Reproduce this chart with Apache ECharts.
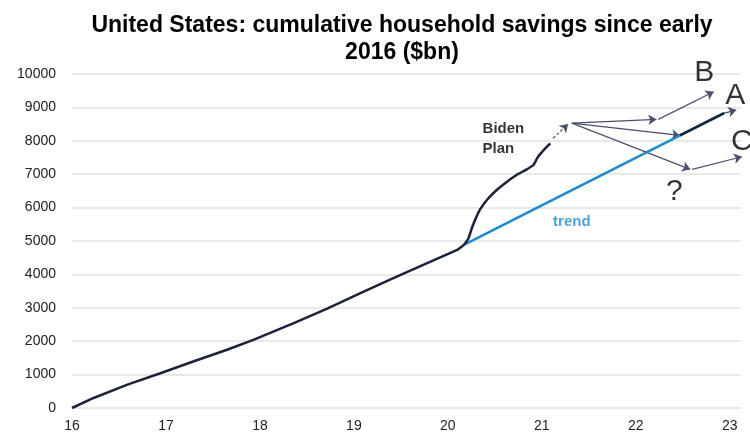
<!DOCTYPE html>
<html>
<head>
<meta charset="utf-8">
<script src="https://cdn.jsdelivr.net/npm/echarts@6/dist/echarts.min.js"></script>
<style>
  html, body { margin: 0; padding: 0; background: #fff; }
  #chart { width: 750px; height: 436px; }
</style>
</head>
<body>
<div id="chart"></div>
<script>
// cumulative savings, $bn, x = year (16 = early 2016)
const history = [
  [16.0, 0], [16.23, 300], [16.59, 700], [16.94, 1040], [17.29, 1393],
  [17.65, 1743], [17.93, 2042], [18.36, 2541], [18.71, 2969], [19.07, 3438],
  [19.42, 3886], [19.78, 4335], [20.1, 4733], [20.17, 4883]
];
const bidenPlan = [
  [20.17, 4883], [20.22, 5083], [20.255, 5382], [20.29, 5630], [20.34, 5929],
  [20.415, 6228], [20.52, 6527], [20.63, 6775], [20.73, 6976], [20.84, 7146],
  [20.91, 7275], [20.96, 7523], [21.02, 7723], [21.09, 7924]
];
const trend = [[20.17, 4883], [22.94, 8830]];
const pathA = [[22.47, 8161], [22.94, 8830]];

// scenario arrows [from, to]
const arrowsSolid = [
  [[21.32, 8530], [22.22, 8641]],
  [[22.24, 8641], [22.83, 9467]],
  [[21.32, 8530], [22.47, 8161]],
  [[22.94, 8830], [23.07, 8920]],
  [[21.32, 8530], [22.58, 7146]],
  [[22.6, 7146], [23.13, 7523]]
];
const arrowsDashed = [[[21.12, 8073], [21.28, 8500]]];

const bigLabels = [[22.73, 10050, 'B'], [23.06, 9340, 'A'], [23.13, 7960, 'C'], [22.41, 6467, '?']];
const yTicks = [0, 1000, 2000, 3000, 4000, 5000, 6000, 7000, 8000, 9000, 10000];

const navy = '#1c2238';
const blue = '#1a8ccc';
const arrowColor = '#4a4f6a';

const chart = echarts.init(document.getElementById('chart'));
chart.setOption({
  animation: false,
  textStyle: { fontFamily: 'Arial, "Liberation Sans", sans-serif' },
  title: {
    text: 'United States: cumulative household savings since early\n2016 ($bn)',
    left: 397,
    top: 7,
    textAlign: 'center',
    textStyle: { fontSize: 23, fontWeight: 'bold', color: '#000', lineHeight: 27 }
  },
  grid: { left: 72, right: 9, top: 74, bottom: 28 },
  xAxis: {
    type: 'value',
    min: 16,
    max: 23.12,
    interval: 1,
    axisLine: { show: false },
    axisTick: { show: false },
    splitLine: { show: false },
    axisLabel: {
      fontSize: 14, color: '#222', margin: 11,
      formatter: (v) => (Number.isInteger(v) ? String(v) : '')
    }
  },
  yAxis: {
    type: 'value',
    min: yTicks[0],
    max: yTicks[yTicks.length - 1],
    interval: 1000,
    axisLine: { show: false },
    axisTick: { show: false },
    axisLabel: { fontSize: 14, color: '#222', margin: 16, formatter: (v) => String(v) },
    splitLine: { lineStyle: { color: '#e2e2e2', width: 1.5 } }
  },
  series: [
    {
      type: 'line', data: trend, symbol: 'none',
      lineStyle: { color: blue, width: 2.5 }
    },
    {
      type: 'line', data: history, symbol: 'none',
      lineStyle: { color: navy, width: 2.5 }
    },
    {
      type: 'line', data: bidenPlan, symbol: 'none', smooth: 0.2,
      lineStyle: { color: navy, width: 2.5 }
    },
    {
      type: 'line', data: pathA, symbol: 'none',
      lineStyle: { color: navy, width: 2.5 }
    },
    {
      type: 'lines', coordinateSystem: 'cartesian2d', clip: false,
      symbol: ['none', 'arrow'], symbolSize: 8,
      lineStyle: { color: arrowColor, width: 1.2, opacity: 1 },
      data: arrowsSolid.map((a) => ({ coords: a }))
    },
    {
      type: 'lines', coordinateSystem: 'cartesian2d', clip: false,
      symbol: ['none', 'arrow'], symbolSize: 8,
      lineStyle: { color: arrowColor, width: 1.2, type: [3, 2], opacity: 1 },
      data: arrowsDashed.map((a) => ({ coords: a }))
    },
    {
      type: 'scatter', symbolSize: 0, clip: false, silent: true,
      data: bigLabels.map((d) => ({ value: [d[0], d[1]], name: d[2] })),
      label: {
        show: true, position: 'inside', formatter: '{b}',
        fontSize: 30, color: '#000', fontFamily: 'Arial, "Liberation Sans", sans-serif'
      }
    },
    {
      type: 'scatter', symbolSize: 0, clip: false, silent: true,
      data: [
        { value: [21.32, 5570], name: 'trend', label: { color: blue, align: 'center' } },
        { value: [20.37, 8067], name: 'Biden\nPlan', label: { color: '#000', align: 'left', lineHeight: 20 } }
      ],
      label: {
        show: true, position: 'inside', formatter: '{b}',
        fontSize: 15, fontWeight: 'bold', verticalAlign: 'middle'
      }
    }
  ]
});
</script>
</body>
</html>
